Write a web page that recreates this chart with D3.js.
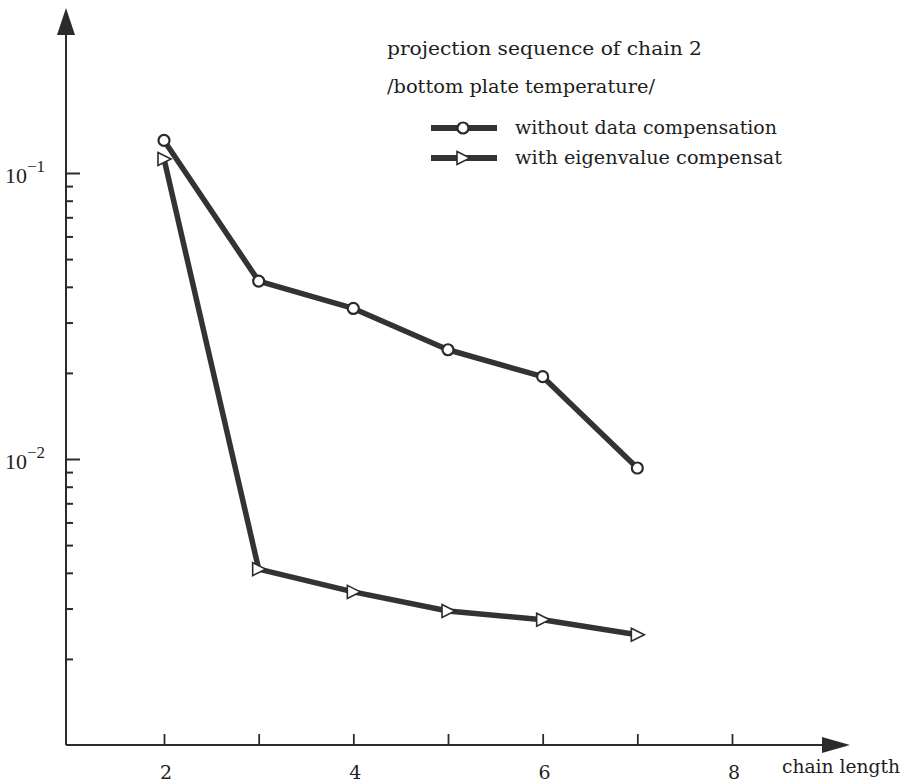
<!DOCTYPE html>
<html>
<head>
<meta charset="utf-8">
<script src="https://cdn.jsdelivr.net/npm/d3@7"></script>
<style>
  body { margin: 0; background: #fff; }
  svg text { font-family: "DejaVu Serif", "Liberation Serif", serif; fill: #1e1e1e; }
</style>
</head>
<body>
<div id="chart"></div>
<script>
// chain length vs. value, log scale

var chainLength = [2, 3, 4, 5, 6, 7];
var withoutComp = [0.130, 0.0419, 0.0336, 0.0241, 0.0194, 0.0093];
var eigenComp   = [0.112, 0.00412, 0.00343, 0.00294, 0.00274, 0.00243];
var xTickValues = [2, 3, 4, 5, 6, 7, 8];
var xTickLabels = [2, 4, 6, 8];
var yMajor = [-1, -2]; // exponents
var titleLines = ["projection sequence of chain 2", "/bottom plate temperature/"];
var seriesNames = ["without data compensation", "with eigenvalue compensat"];

var width = 910, height = 783;
var ink = "#2b2b2b";

var svg = d3.select("#chart").append("svg")
    .attr("width", width)
    .attr("height", height);

var x_scale = d3.scaleLinear().domain([2, 8]).range([164, 732]);
var y_scale = d3.scaleLog().domain([1e-3, 1e-1]).range([745, 173]);

var originX = 66, originY = 745;

// y axis line + arrow
svg.append("line")
    .attr("x1", originX).attr("x2", originX)
    .attr("y1", originY).attr("y2", 30)
    .attr("stroke", ink).attr("stroke-width", 2);
svg.append("path")
    .attr("d", "M" + originX + ",8 L" + (originX - 9) + ",35 L" + (originX + 9) + ",35 Z")
    .attr("fill", ink);

// x axis line + arrow
svg.append("line")
    .attr("x1", originX).attr("x2", 830)
    .attr("y1", originY).attr("y2", originY)
    .attr("stroke", ink).attr("stroke-width", 2);
svg.append("path")
    .attr("d", "M850," + originY + " L822," + (originY - 8) + " L822," + (originY + 8) + " Z")
    .attr("fill", ink);

// y ticks (inward)
var minorTicks = [];
[1e-3, 1e-2].forEach(function(base) {
  for (var k = 2; k <= 9; k++) minorTicks.push(base * k);
});
var majorTicks = yMajor.map(function(e) { return Math.pow(10, e); });

var yMinorAxis = d3.axisRight(y_scale).tickValues(minorTicks).tickSize(7).tickFormat("");
var yMajorAxis = d3.axisRight(y_scale).tickValues(majorTicks).tickSize(14).tickFormat("");

[yMinorAxis, yMajorAxis].forEach(function(ax) {
  var g = svg.append("g")
      .attr("transform", "translate(" + originX + ",0)")
      .call(ax);
  g.select(".domain").remove();
  g.selectAll("line").attr("stroke", ink).attr("stroke-width", 2);
});

// y labels 10^-n
yMajor.forEach(function(e) {
  var t = svg.append("text")
      .attr("x", 5)
      .attr("y", y_scale(Math.pow(10, e)) + 10)
      .style("font-family", "Liberation Serif")
      .style("font-size", "22px");
  t.append("tspan").text("10");
  t.append("tspan").attr("dy", -11).style("font-size", "17px").text("\u2212" + (-e));
});

// x ticks (upward)
var xAxis = d3.axisTop(x_scale).tickValues(xTickValues).tickSize(11).tickFormat("");
var gx = svg.append("g")
    .attr("transform", "translate(0," + originY + ")")
    .call(xAxis);
gx.select(".domain").remove();
gx.selectAll("line").attr("stroke", ink).attr("stroke-width", 1.8);

svg.selectAll(".xlabel")
    .data(xTickLabels)
    .enter()
    .append("text")
    .attr("class", "xlabel")
    .attr("x", function(d) { return x_scale(d) + 2; })
    .attr("y", 779)
    .attr("text-anchor", "middle")
    .style("font-size", "19px")
    .text(function(d) { return d; });

svg.append("text")
    .attr("x", 782)
    .attr("y", 773)
    .attr("textLength", 118)
    .attr("lengthAdjust", "spacingAndGlyphs")
    .style("font-size", "18px")
    .text("chain length");

// series
var data = [
  { name: seriesNames[0], marker: "circle", values: withoutComp },
  { name: seriesNames[1], marker: "triangle", values: eigenComp }
];

var line = d3.line()
    .x(function(d) { return x_scale(d.x); })
    .y(function(d) { return y_scale(d.y); });

var triPath = "M-6,-6.5 L7,0 L-6,6.5 Z";

function drawMarker(g, kind) {
  if (kind === "circle") {
    g.append("circle").attr("r", 5.5)
        .attr("fill", "#fff").attr("stroke", ink).attr("stroke-width", 2.2);
  } else {
    g.append("path").attr("d", triPath)
        .attr("fill", "#fff").attr("stroke", ink).attr("stroke-width", 1.6);
  }
}

data.forEach(function(s) {
  var pts = chainLength.map(function(c, i) { return { x: c, y: s.values[i] }; });
  svg.append("path")
      .attr("d", line(pts))
      .attr("fill", "none")
      .attr("stroke", "#333")
      .attr("stroke-width", 5.5)
      .attr("stroke-linejoin", "round");
  pts.forEach(function(p) {
    var g = svg.append("g")
        .attr("transform", "translate(" + x_scale(p.x) + "," + y_scale(p.y) + ")");
    drawMarker(g, s.marker);
  });
});

// title text
var titleX = 387;
svg.append("text").attr("x", titleX).attr("y", 55)
    .attr("textLength", 315).attr("lengthAdjust", "spacingAndGlyphs")
    .style("font-size", "18px").text(titleLines[0]);
svg.append("text").attr("x", titleX).attr("y", 93)
    .attr("textLength", 268).attr("lengthAdjust", "spacingAndGlyphs")
    .style("font-size", "18px").text(titleLines[1]);

// legend
var legendY = [128, 158];
var legendLen = [262, 267];
data.forEach(function(s, i) {
  var ly = legendY[i];
  svg.append("line")
      .attr("x1", 431).attr("x2", 497)
      .attr("y1", ly).attr("y2", ly)
      .attr("stroke", "#333").attr("stroke-width", 6);
  var g = svg.append("g").attr("transform", "translate(463," + ly + ")");
  drawMarker(g, s.marker);
  svg.append("text")
      .attr("x", 515).attr("y", ly + 6)
      .attr("textLength", legendLen[i]).attr("lengthAdjust", "spacingAndGlyphs")
      .style("font-size", "18px")
      .text(s.name);
});
</script>
</body>
</html>
